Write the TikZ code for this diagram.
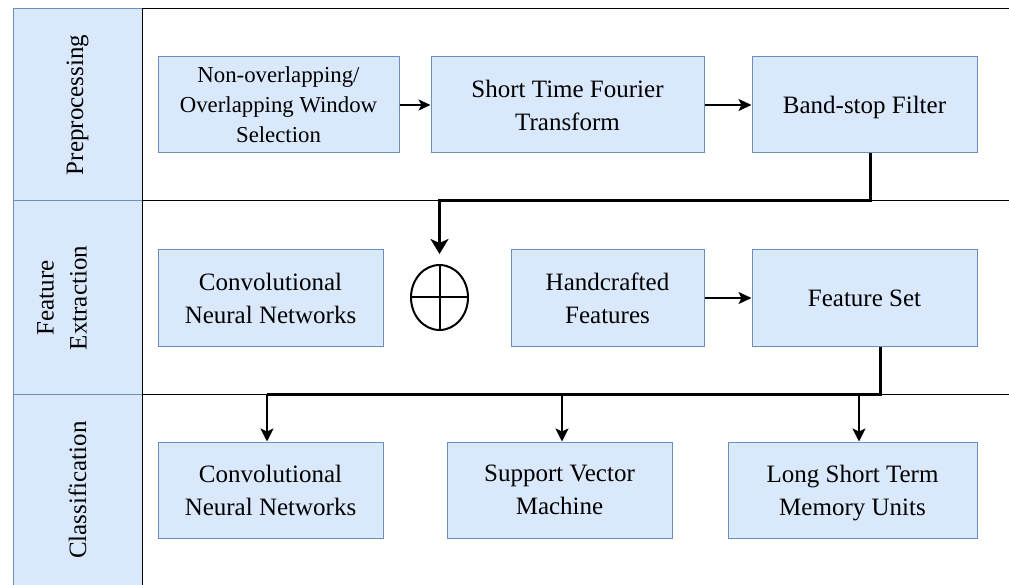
\documentclass[tikz,border=0pt]{standalone}
\usepackage{fontspec}
\setmainfont{Liberation Serif}
\usetikzlibrary{shapes.geometric,arrows.meta,calc}
\definecolor{bfill}{HTML}{DAE8FC}
\definecolor{bstroke}{HTML}{6C8EBF}
\tikzset{
  box/.style={draw=bstroke, fill=bfill, line width=1pt, align=center, inner sep=0pt,
    minimum height=96pt, text depth=0pt, font=\fontsize{25}{33}\selectfont},
  smallbox/.style={box, font=\fontsize{22.8}{30}\selectfont},
  hdr/.style={draw=bstroke, fill=bfill, line width=1pt, inner sep=0pt,
    minimum width=129pt, minimum height=193pt},
  hdrtext/.style={rotate=90, align=center, font=\fontsize{25}{33}\selectfont},
  lane/.style={draw=black, line width=1pt},
  link/.style={line width=2pt, -{Stealth[length=13pt, width=13pt, inset=3pt]}},
  biglink/.style={line width=3pt},
  bigarrow/.style={line width=3pt, -{Stealth[length=15pt, width=18pt, inset=4pt]}},
}
\begin{document}
\begin{tikzpicture}[x=1pt,y=-1pt]
\useasboundingbox (0,0) rectangle (1009,585);
\clip (0,0) rectangle (1009,585);
% lane headers
\node[hdr] (h1) at (77.5,105) {};
\node[hdr] (h2) at (77.5,297.5) {};
\node[hdr] (h3) at (77.5,490.5) {};
\node[hdrtext] (t1) at (77.5,105) {Preprocessing};
\node[hdrtext] (t2) at (62,298) {Feature\\Extraction};
\node[hdrtext] (t3) at (77.5,490) {Classification};
% lane lines
\coordinate (l0) at (142,9);
\coordinate (l1) at (142,201);
\coordinate (l2) at (142,394);
\coordinate (lb) at (142,600);
\draw[lane] (l0) -- (lb);
\draw[lane] (l0) -- ++(880,0);
\draw[lane] (l1) -- ++(880,0);
\draw[lane] (l2) -- ++(880,0);
% row 1
\node[smallbox, minimum width=241pt] (A) at (278.5,105) {Non-overlapping/\\Overlapping Window\\Selection};
\node[box, minimum width=273pt] (B) at (567.5,105) {Short Time Fourier\\Transform};
\node[box, minimum width=225pt] (C) at (864.5,105) {Band-stop Filter};
% row 2
\node[box, minimum width=225pt] (D) at (270.5,298) {Convolutional\\Neural Networks};
\node[draw=black, line width=2pt, ellipse, minimum width=57pt, minimum height=65pt, inner sep=0pt] (S) at (439.5,297.5) {};
\draw[line width=2pt] (S.north) -- (S.south);
\draw[line width=2pt] (S.west) -- (S.east);
\node[box, minimum width=193pt] (E) at (607.5,298) {Handcrafted\\Features};
\node[box, minimum width=225pt] (F) at (864.5,298) {Feature Set};
% row 3
\node[box, minimum width=225pt] (G) at (270.5,490) {Convolutional\\Neural Networks};
\node[box, minimum width=225pt] (H) at (559.5,490) {Support Vector\\Machine};
\node[box, minimum width=249pt] (I) at (852.5,490) {Long Short Term\\Memory Units};
% connectors
\draw[line width=1.8pt, -{Stealth[length=12pt, width=11pt, inset=3pt]}] (A) -- (B);
\draw[line width=1.8pt, -{Stealth[length=13pt, width=12pt, inset=3pt]}] (B) -- (C);
\draw[line width=1.8pt, -{Stealth[length=13pt, width=12pt, inset=3pt]}] (E) -- (F);
\coordinate (c1) at ([xshift=5.5pt]C.south);
\coordinate (c2) at (c1 |- l1);
\draw[bigarrow, shorten >=10pt] (c1) -- (c2) -| (S.north);
\coordinate (f1) at ([xshift=15.5pt]F.south);
\coordinate (f2) at (880,394.5);
\coordinate (fg) at ([xshift=-3.5pt]G.north |- f2);
\coordinate (fh) at ([xshift=2.5pt]H.north |- f2);
\coordinate (fi) at ([xshift=6.5pt]I.north |- f2);
\draw[biglink] (f1) -- (f2) -- (fg);
\draw[link] (fg) -- ([xshift=-3.5pt]G.north);
\draw[link] (fh) -- ([xshift=2.5pt]H.north);
\draw[link] (fi) -- ([xshift=6.5pt]I.north);
\end{tikzpicture}
\end{document}
